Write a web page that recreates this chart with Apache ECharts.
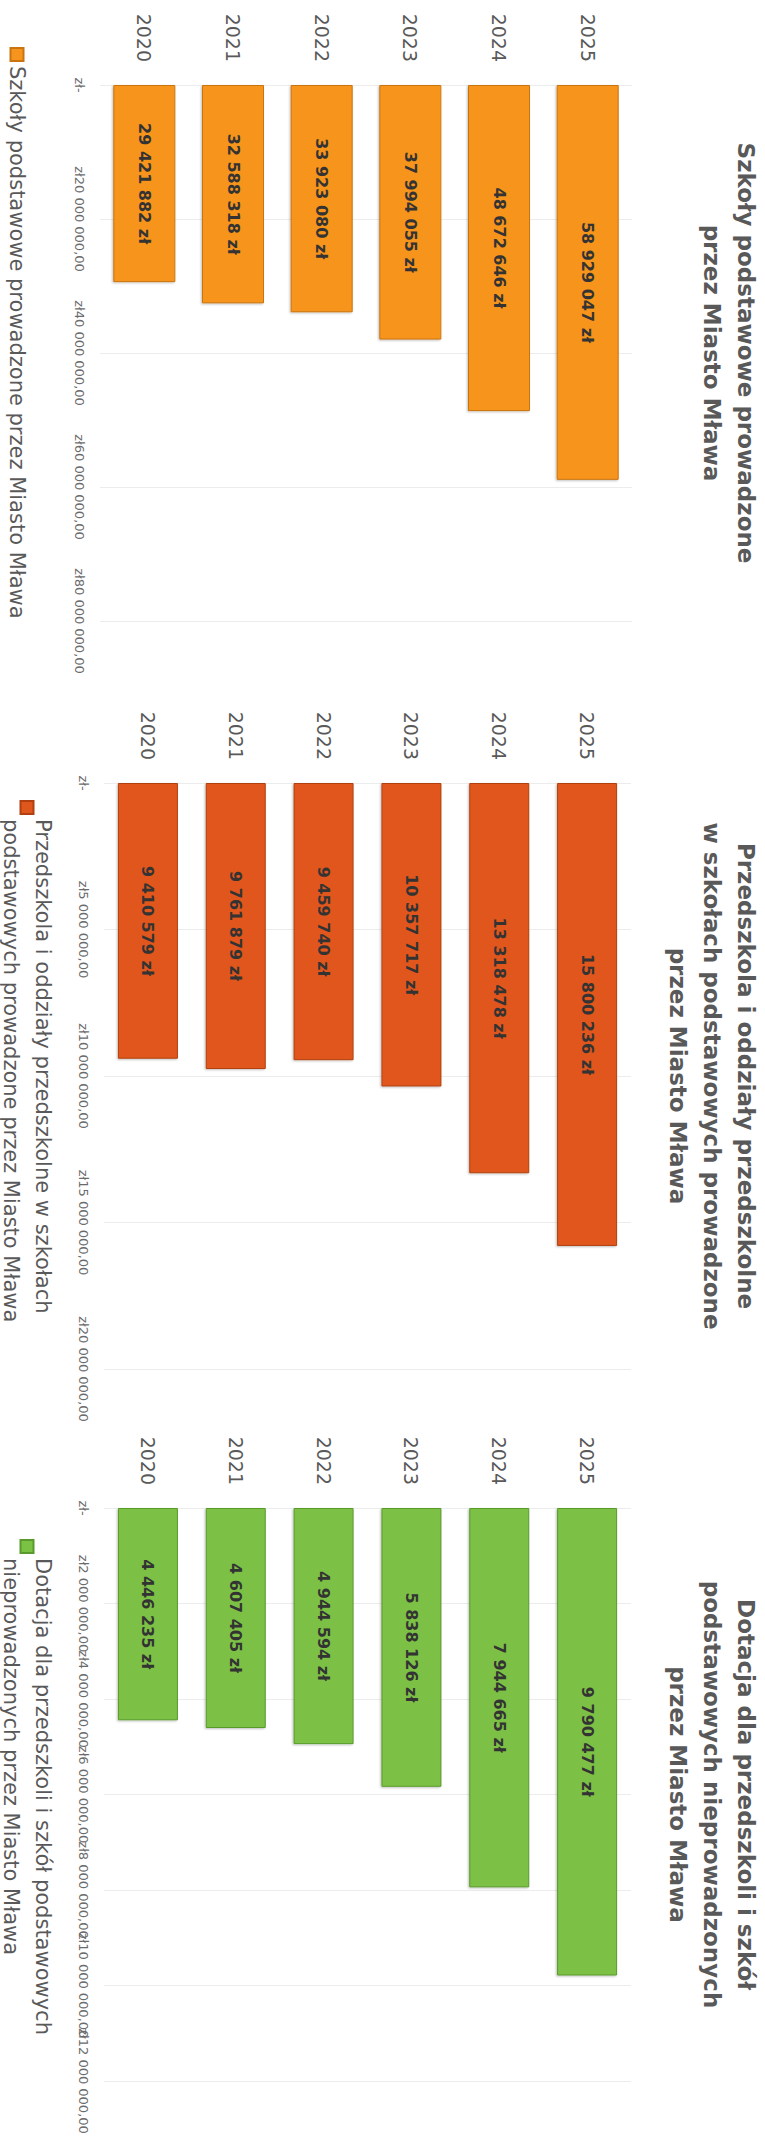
<!DOCTYPE html>
<html>
<head>
<meta charset="utf-8">
<script src="https://cdn.jsdelivr.net/npm/echarts@6/dist/echarts.min.js"></script>
<style>
html,body{margin:0;padding:0;background:#fff;}
#page{position:relative;width:765px;height:2140px;overflow:hidden;background:#fff;}
#rot{position:absolute;left:0;top:0;width:2140px;height:765px;transform-origin:0 0;transform:translate(765px,0) rotate(90deg);}
#chart{width:2140px;height:765px;}
</style>
</head>
<body>
<div id="page"><div id="rot"><div id="chart"></div></div></div>
<script>
// ---- data ----
const years = ['2020', '2021', '2022', '2023', '2024', '2025'];
const szkolyValues = [29421882, 32588318, 33923080, 37994055, 48672646, 58929047];
const przedszkolaValues = [9410579, 9761879, 9459740, 10357717, 13318478, 15800236];
const dotacjaValues = [4446235, 4607405, 4944594, 5838126, 7944665, 9790477];

const titles = [
  ['Szkoły podstawowe prowadzone', 'przez Miasto Mława'],
  ['Przedszkola i oddziały przedszkolne', 'w szkołach podstawowych prowadzone', 'przez Miasto Mława'],
  ['Dotacja dla przedszkoli i szkół', 'podstawowych nieprowadzonych', 'przez Miasto Mława']
];
const seriesNames = [
  'Szkoły podstawowe prowadzone przez Miasto Mława',
  'Przedszkola i oddziały przedszkolne w szkołach podstawowych prowadzone przez Miasto Mława',
  'Dotacja dla przedszkoli i szkół podstawowych nieprowadzonych przez Miasto Mława'
];
const legendLines = [
  ['Szkoły podstawowe prowadzone przez Miasto Mława'],
  ['Przedszkola i oddziały przedszkolne w szkołach', 'podstawowych prowadzone przez Miasto Mława'],
  ['Dotacja dla przedszkoli i szkół podstawowych', 'nieprowadzonych przez Miasto Mława']
];
const axisMax = [80000000, 20000000, 12000000];
const axisInterval = [20000000, 5000000, 2000000];
// chart 3 tick labels overlap; the one before the last is shown by a twin axis
const chart3TwinTick = 10000000;

// ---- styling / layout ----
const FONT = 'DejaVu Sans';
const colors = ['#F7941E', '#E0571D', '#7BC144'];
const borders = ['#C97410', '#B0400F', '#5A9A2C'];
const grids = [
  {left: 85, top: 133, width: 536, height: 532},
  {left: 783, top: 134, width: 586, height: 527},
  {left: 1508, top: 134, width: 573, height: 527}
];
const barWidths = [62, 60, 60];

function spaced(n) {
  return String(Math.round(n)).replace(/\B(?=(\d{3})+(?!\d))/g, ' ');
}
function money(v) {
  return v === 0 ? 'zł-' : 'zł' + spaced(v) + ',00';
}

const labelBase = {fontFamily: FONT, fontSize: 13, color: '#6b6b6b', margin: 14,
  showMinLabel: true, showMaxLabel: true, hideOverlap: false};

const xAxes = grids.map((g, i) => ({
  type: 'value',
  gridIndex: i,
  position: 'bottom',
  min: 0,
  max: axisMax[i],
  interval: axisInterval[i],
  axisLine: {show: false},
  axisTick: {show: false},
  splitLine: {show: true, lineStyle: {color: '#ececec', width: 1}},
  axisLabel: Object.assign({}, labelBase, {
    formatter: v => (i === 2 && v === chart3TwinTick) ? '' : money(v)
  })
}));
xAxes.push({
  type: 'value',
  gridIndex: 2,
  position: 'bottom',
  offset: 0,
  min: 0,
  max: axisMax[2],
  interval: axisInterval[2],
  axisLine: {show: false},
  axisTick: {show: false},
  splitLine: {show: false},
  axisLabel: Object.assign({}, labelBase, {
    formatter: v => v === chart3TwinTick ? money(v) : ''
  })
});

const option = {
  backgroundColor: '#ffffff',
  animation: false,
  title: titles.map((lines, i) => ({
    text: lines.join('\n'),
    left: grids[i].left + grids[i].width / 2,
    top: 2,
    textAlign: 'center',
    padding: 0,
    textStyle: {fontFamily: FONT, fontSize: 23, fontWeight: 'bold', color: '#595959', lineHeight: 34}
  })),
  legend: legendLines.map((lines, i) => ({
    data: [seriesNames[i]],
    left: [47, 800, 1539][i],
    top: lines.length === 1 ? 732 : 690,
    padding: 0,
    itemWidth: 13,
    itemHeight: 13,
    itemGap: 4,
    icon: 'rect',
    formatter: () => lines.join('\n'),
    textStyle: {
      fontFamily: FONT, fontSize: 21, color: '#595959', lineHeight: 32,
      padding: lines.length === 1 ? 0 : [32, 0, 0, 0]
    }
  })),
  grid: grids.map(g => Object.assign({containLabel: false}, g)),
  xAxis: xAxes,
  yAxis: grids.map((g, i) => ({
    type: 'category',
    gridIndex: i,
    data: years,
    axisLine: {show: false},
    axisTick: {show: false},
    splitLine: {show: false},
    axisLabel: {fontFamily: FONT, fontSize: 19, color: '#595959', margin: 23}
  })),
  series: [szkolyValues, przedszkolaValues, dotacjaValues].map((vals, i) => ({
    type: 'bar',
    name: seriesNames[i],
    xAxisIndex: i,
    yAxisIndex: i,
    data: vals,
    barWidth: barWidths[i],
    itemStyle: {
      color: colors[i],
      borderColor: borders[i],
      borderWidth: 1,
      shadowColor: 'rgba(0,0,0,0.25)',
      shadowBlur: 2,
      shadowOffsetX: 1,
      shadowOffsetY: 1
    },
    label: {
      show: true,
      position: 'inside',
      fontFamily: FONT,
      fontSize: 16,
      fontWeight: 'bold',
      color: '#333333',
      formatter: p => spaced(p.value) + ' zł'
    }
  }))
};

const chart = echarts.init(document.getElementById('chart'), null, {renderer: 'svg', width: 2140, height: 765});
chart.setOption(option);
</script>
</body>
</html>
